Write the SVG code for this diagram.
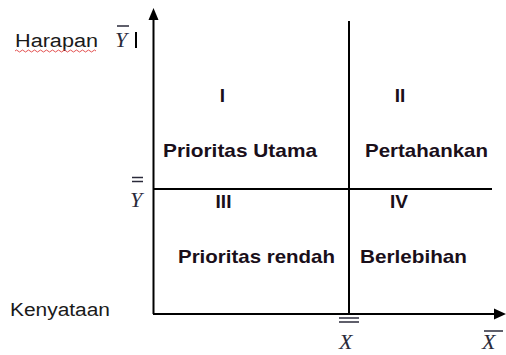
<svg xmlns="http://www.w3.org/2000/svg" width="506" height="355" viewBox="0 0 506 355">
  <style>
    .ax { stroke: #000; stroke-width: 2; fill: none; }
    .q { font-family: "Liberation Sans", Arial, sans-serif; font-weight: bold; font-size: 19px; fill: #1a0f1a; }
    .lbl { font-family: "Liberation Sans", Arial, sans-serif; font-size: 18px; fill: #1a1a1a; }
    .m { font-family: "Liberation Serif", "Times New Roman", serif; font-style: italic; font-size: 22px; fill: #2a2a3a; }
    .bar { stroke: #2a2a3a; stroke-width: 1.5; }
  </style>
  <rect width="506" height="355" fill="#fff"/>

  <!-- axes and quadrant dividers -->
  <g id="connectors">
    <line class="ax" x1="153.5" y1="18" x2="153.5" y2="314"/>
    <polygon points="153.5,8 148.5,20 158.5,20" fill="#000"/>
    <line class="ax" x1="153" y1="314" x2="496" y2="314"/>
    <polygon points="506,314 494,308.5 494,319.5" fill="#000"/>
    <line class="ax" x1="349" y1="21" x2="349" y2="314"/>
    <line class="ax" x1="153" y1="189" x2="492" y2="189"/>
  </g>

  <!-- axis captions -->
  <g id="harapan">
    <text class="lbl" x="15" y="47" textLength="83" lengthAdjust="spacingAndGlyphs">Harapan</text>
    <path d="M15,51 q1.5,-2 3,0 t3,0 t3,0 t3,0 t3,0 t3,0 t3,0 t3,0 t3,0 t3,0 t3,0 t3,0 t3,0 t3,0 t3,0 t3,0 t3,0 t3,0 t3,0 t3,0 t3,0 t3,0 t3,0 t3,0 t3,0 t3,0 t3,0" fill="none" stroke="#e04040" stroke-width="0.9"/>
    <text class="m" x="115" y="47">Y</text>
    <line class="bar" x1="117" y1="26" x2="129" y2="26"/>
    <line x1="136" y1="32" x2="136" y2="48" stroke="#000" stroke-width="2"/>
  </g>
  <g id="kenyataan">
    <text class="lbl" x="10" y="316" textLength="100" lengthAdjust="spacingAndGlyphs">Kenyataan</text>
  </g>

  <!-- mean markers -->
  <g id="y-mean">
    <line class="bar" x1="132" y1="177.5" x2="143" y2="177.5"/>
    <line class="bar" x1="132" y1="181.5" x2="143" y2="181.5"/>
    <text class="m" x="130" y="207">Y</text>
  </g>
  <g id="x-mean">
    <line class="bar" x1="339" y1="318" x2="359" y2="318"/>
    <line class="bar" x1="339" y1="322" x2="359" y2="322"/>
    <text class="m" x="339" y="349">X</text>
  </g>
  <g id="x-bar">
    <line class="bar" x1="484" y1="331" x2="503" y2="331"/>
    <text class="m" x="482" y="349">X</text>
  </g>

  <!-- quadrants -->
  <g id="q1">
    <text class="q" x="222.5" y="102" text-anchor="middle">I</text>
    <text class="q" x="163" y="157" textLength="154" lengthAdjust="spacingAndGlyphs">Prioritas Utama</text>
  </g>
  <g id="q2">
    <text class="q" x="400" y="102" text-anchor="middle">II</text>
    <text class="q" x="365" y="157" textLength="123" lengthAdjust="spacingAndGlyphs">Pertahankan</text>
  </g>
  <g id="q3">
    <text class="q" x="223.5" y="208" text-anchor="middle">III</text>
    <text class="q" x="178" y="263" textLength="157" lengthAdjust="spacingAndGlyphs">Prioritas rendah</text>
  </g>
  <g id="q4">
    <text class="q" x="399" y="208" text-anchor="middle">IV</text>
    <text class="q" x="360" y="263" textLength="107" lengthAdjust="spacingAndGlyphs">Berlebihan</text>
  </g>
</svg>
